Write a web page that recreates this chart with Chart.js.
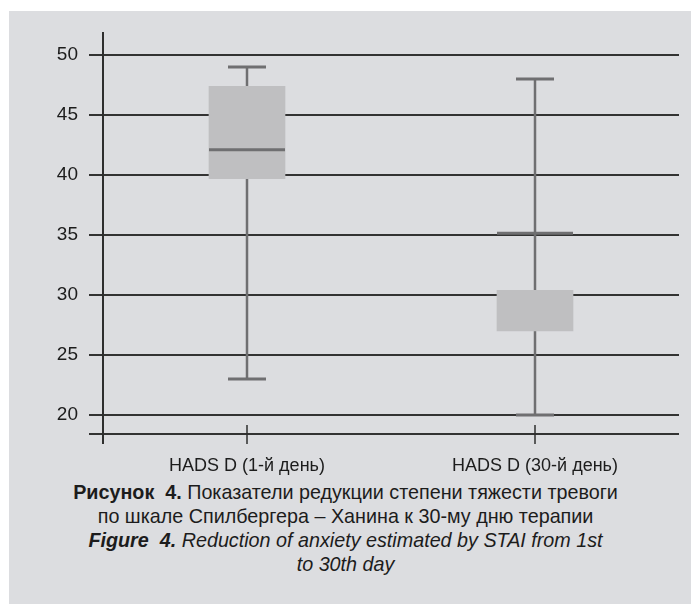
<!DOCTYPE html>
<html>
<head>
<meta charset="utf-8">
<script src="https://cdn.jsdelivr.net/npm/chart.js@4.4.1/dist/chart.umd.min.js"></script>
<style>
  html, body { margin: 0; padding: 0; background: #fff; }
  #wrap { position: relative; width: 691px; height: 604px; overflow: hidden; }
  #panel { position: absolute; left: 9px; top: 11px; right: 0; bottom: 0; background: #dcdde0; }
  #chart { position: absolute; left: 0; top: 0; }
  .cap { position: absolute; left: 0; width: 691px; text-align: center; color: #1c1c1c;
         font-family: "Liberation Sans Narrow", "Arial Narrow", "Liberation Sans", sans-serif;
         font-size: 21px; line-height: 24px; white-space: nowrap;
         transform: scaleX(0.94); transform-origin: 346px 0; }
  .cap b { font-weight: bold; }
</style>
</head>
<body>
<div id="wrap">
  <div id="panel"></div>
  <canvas id="chart" width="691" height="480"></canvas>
  <div class="cap" style="top:480px"><b>Рисунок&nbsp; 4.</b> Показатели редукции степени тяжести тревоги</div>
  <div class="cap" style="top:504px">по шкале Спилбергера – Ханина к 30-му дню терапии</div>
  <div class="cap" style="top:528px;font-style:italic"><b>Figure&nbsp; 4.</b> Reduction of anxiety estimated by STAI from 1st</div>
  <div class="cap" style="top:552px;font-style:italic">to 30th day</div>
</div>
<script>
console.log('boxplot-anxiety');

// data
const categories = ['HADS D (1-й день)', 'HADS D (30-й день)'];
const whiskerMin = [23, 20];
const whiskerMax = [49, 48];
const boxLow = [39.7, 27];
const boxHigh = [47.4, 30.4];
const medians = [42.1, 35.15];
const yTicks = [20, 25, 30, 35, 40, 45, 50];

const FONT = '"Liberation Sans Narrow", "Arial Narrow", "Liberation Sans", sans-serif';
const WHISKER = '#6f6f71';

// whiskers, caps, medians and the axis bits drawn from the chart scales
const boxParts = {
    id: 'boxParts',
    beforeDatasetsDraw(chart) {
        const { ctx, scales: { x, y } } = chart;
        ctx.save();
        ctx.strokeStyle = WHISKER;
        ctx.lineWidth = 2.5;
        categories.forEach((c, i) => {
            const px = x.getPixelForValue(i);
            ctx.beginPath();
            ctx.moveTo(px, y.getPixelForValue(whiskerMin[i]));
            ctx.lineTo(px, y.getPixelForValue(whiskerMax[i]));
            ctx.stroke();
        });
        ctx.restore();
    },
    afterDatasetsDraw(chart) {
        const { ctx, chartArea, scales: { x, y } } = chart;
        ctx.save();
        ctx.strokeStyle = WHISKER;
        ctx.lineWidth = 3;
        categories.forEach((c, i) => {
            const px = x.getPixelForValue(i);
            [whiskerMin[i], whiskerMax[i]].forEach(v => {
                const py = y.getPixelForValue(v);
                ctx.beginPath();
                ctx.moveTo(px - 19, py);
                ctx.lineTo(px + 19, py);
                ctx.stroke();
            });
            const my = y.getPixelForValue(medians[i]);
            ctx.beginPath();
            ctx.moveTo(px - 38, my);
            ctx.lineTo(px + 38, my);
            ctx.stroke();
        });
        // y axis line, runs a little below the bottom line
        ctx.strokeStyle = '#2e2e2e';
        ctx.lineWidth = 2;
        ctx.beginPath();
        ctx.moveTo(chartArea.left, chartArea.top);
        ctx.lineTo(chartArea.left, chartArea.bottom + 10);
        ctx.stroke();
        // category tick marks crossing the bottom line
        ctx.lineWidth = 1.5;
        categories.forEach((c, i) => {
            const px = x.getPixelForValue(i);
            ctx.beginPath();
            ctx.moveTo(px, chartArea.bottom - 9);
            ctx.lineTo(px, chartArea.bottom + 10);
            ctx.stroke();
        });
        ctx.restore();
    }
};

const ctx = document.getElementById('chart').getContext('2d');
new Chart(ctx, {
    type: 'bar',
    data: {
        labels: categories,
        datasets: [{
            label: 'IQR',
            data: boxLow.map((v, i) => [v, boxHigh[i]]),
            backgroundColor: '#bfbfc1',
            borderWidth: 0,
            barThickness: 76,
        }],
    },
    options: {
        responsive: false,
        animation: false,
        layout: { padding: { top: 32, right: 12, left: 0, bottom: 0 } },
        plugins: { legend: { display: false }, tooltip: { enabled: false } },
        scales: {
            x: {
                grid: { display: false },
                border: { display: false },
                ticks: { color: '#1c1c1c', padding: 13, font: { family: FONT, size: 18 } },
                afterFit(scale) { scale.height = 46; },
            },
            y: {
                min: 18.42,
                max: 51.92,
                afterBuildTicks(scale) {
                    scale.ticks = [18.42].concat(yTicks).map(v => ({ value: v }));
                },
                grid: { color: '#333', lineWidth: 2, tickLength: 14 },
                border: { display: false },
                ticks: {
                    color: '#1c1c1c', padding: 11,
                    font: { family: FONT, size: 19 },
                    callback: v => (yTicks.includes(v) ? v : ''),
                },
                afterFit(scale) { scale.width = 103; },
            },
        },
    },
    plugins: [boxParts],
});
</script>
</body>
</html>
